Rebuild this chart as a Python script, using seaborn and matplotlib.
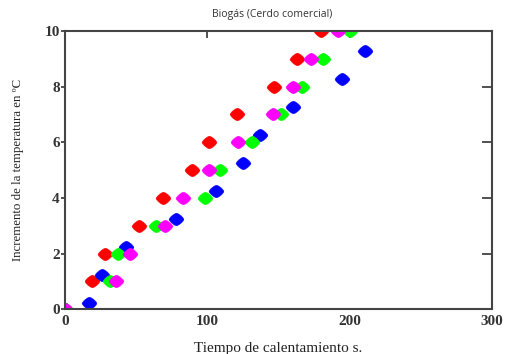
import numpy as np
import pandas as pd
import matplotlib
matplotlib.use("Agg")
import matplotlib.pyplot as plt
import seaborn as sns

# Values
red_t = [0, 19, 28, 52, 69, 89, 101, 121, 147, 163, 180]
red_dT = [0, 1, 2, 3, 4, 5, 6, 7, 8, 9, 10]
blue_t = [0, 17, 26, 43, 78, 106, 125, 137, 160, 195, 211]
blue_dT = [0, 0.22, 1.22, 2.22, 3.25, 4.25, 5.25, 6.25, 7.28, 8.28, 9.28]
green_t = [0, 31.5, 37, 64, 98, 109, 131, 152, 166.5, 181, 200.5]
green_dT = [0, 1, 2, 3, 4, 5, 6, 7, 8, 9, 10]
magenta_t = [0, 35.5, 45.5, 70.5, 83, 101, 121.5, 146, 160, 173, 191.5]
magenta_dT = [0, 1, 2, 3, 4, 5, 6, 7, 8, 9, 10]

series = [
    ("rojo", red_t, red_dT, "#ff0000"),
    ("azul", blue_t, blue_dT, "#0000ff"),
    ("verde", green_t, green_dT, "#00ff00"),
    ("magenta", magenta_t, magenta_dT, "#ff00ff"),
]

# rounded diamond marker (a little wider than tall)
ang = np.linspace(0, 2 * np.pi, 60, endpoint=False)
p = 1.35
mx = np.sign(np.cos(ang)) * np.abs(np.cos(ang)) ** (2 / p)
my = 0.85 * np.sign(np.sin(ang)) * np.abs(np.sin(ang)) ** (2 / p)
diamond = np.column_stack([mx, my])

sns.set_style("white")
fig = plt.figure(figsize=(5.08, 3.54), dpi=100)
ax = fig.add_axes([0.1285, 0.1263, 0.8395, 0.7863])

for name, t, dT, color in series:
    df = pd.DataFrame({"t": t, "dT": dT})
    sns.scatterplot(data=df, x="t", y="dT", ax=ax, color=color, marker=diamond,
                    s=115, edgecolor=color, linewidth=0.3, legend=False)

ax.set_xlim(0, 300)
ax.set_ylim(0, 10)
ax.set_xticks([0, 100, 200, 300])
ax.set_yticks([0, 2, 4, 6, 8, 10])

serif = "Liberation Serif"
for lbl in ax.get_xticklabels() + ax.get_yticklabels():
    lbl.set_fontfamily(serif)
    lbl.set_fontsize(11)
    lbl.set_fontweight("bold")
    lbl.set_color("#333333")

ax.tick_params(axis="x", direction="in", length=5, width=1.2, top=True,
               pad=4, color="#333333")
ax.tick_params(axis="y", left=True, direction="out", length=3, width=1.2,
               pad=1, color="#333333")
ax.tick_params(axis="y", right=True, color="#333333")
for tl in ax.yaxis.get_major_ticks():
    tl.tick2line.set_markersize(7)
    tl.tick2line.set_marker(matplotlib.lines.TICKLEFT)
    tl.tick2line.set_markeredgewidth(1.2)

for sp in ax.spines.values():
    sp.set_visible(True)
    sp.set_color("#444444")
    sp.set_linewidth(1.5)

ax.set_xlabel("Tiempo de calentamiento s.", fontfamily=serif, fontsize=11,
              color="#222222", labelpad=10)
ax.set_ylabel("Incremento de la temperatura en ºC", fontfamily=serif,
              fontsize=9.3, color="#222222")
ax.yaxis.set_label_coords(-0.097, 0.5)

fig.text(272 / 508, 1 - 15 / 354, "Biogás (Cerdo comercial)", ha="center",
         va="center", fontsize=7.5, fontfamily="Open Sans", color="#333333")

fig.savefig("out.png", dpi=100)
